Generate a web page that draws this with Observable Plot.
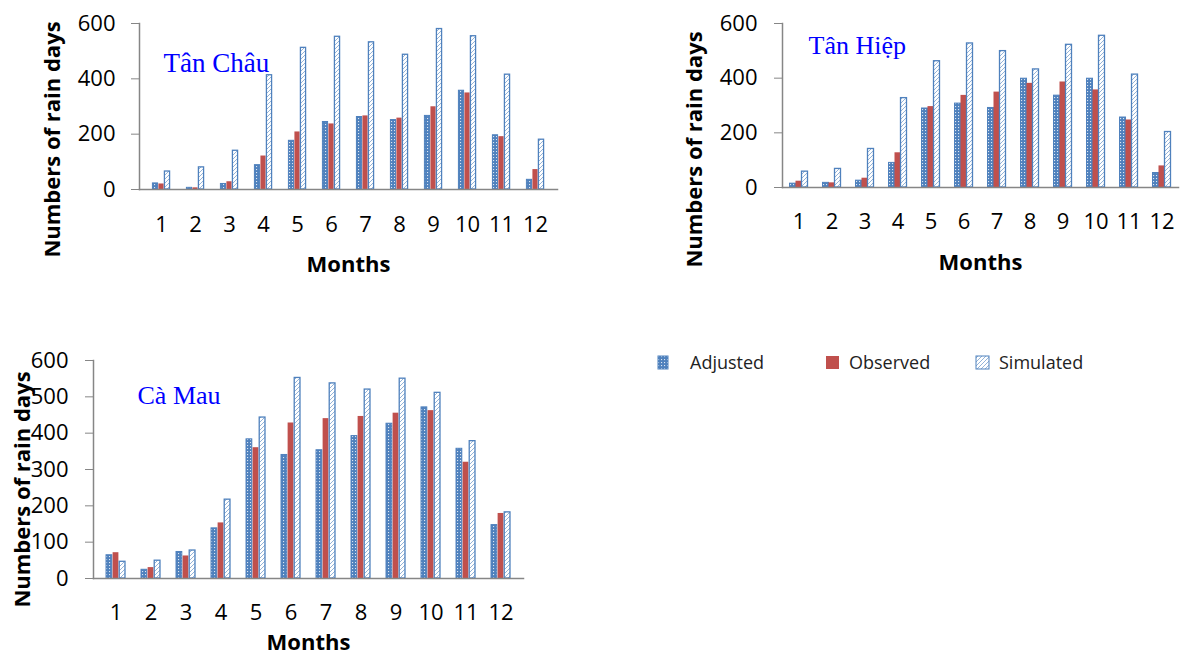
<!DOCTYPE html>
<html>
<head>
<meta charset="utf-8">
<script src="https://cdn.jsdelivr.net/npm/d3@7"></script>
<script src="https://cdn.jsdelivr.net/npm/@observablehq/plot@0.6"></script>
<style>
  html, body { margin: 0; padding: 0; background: white; width: 1184px; height: 656px; overflow: hidden; }
  #root { position: relative; width: 1184px; height: 656px; font-family: "Open Sans", sans-serif; }
  .panel { position: absolute; }
  .legend { position: absolute; top: 350px; left: 0; height: 24px; width: 1184px; font-family: "Open Sans", sans-serif; font-size: 18px; color: #222; }
  .legend .item { position: absolute; top: 0; height: 24px; line-height: 24px; white-space: nowrap; }
  .legend svg { position: absolute; }
</style>
</head>
<body>
<svg width="0" height="0" style="position:absolute">
  <defs>
    <pattern id="pat-adj" patternUnits="userSpaceOnUse" width="3" height="3">
      <rect width="3" height="3" fill="#4F81BD"></rect>
      <rect x="1" y="1" width="1.1" height="1.1" fill="#DCE6F2"></rect>
    </pattern>
    <pattern id="pat-sim" patternUnits="userSpaceOnUse" width="4" height="4">
      <rect width="4" height="4" fill="white"></rect>
      <path d="M0,4 L4,0 M-1,1 L1,-1 M3,5 L5,3" stroke="#95B3D7" stroke-width="1"></path>
    </pattern>
  </defs>
</svg>
<div id="root"></div>
<script>
// ---- data ----
const months = [1, 2, 3, 4, 5, 6, 7, 8, 9, 10, 11, 12];
const seriesNames = ["Adjusted", "Observed", "Simulated"];

const tanChauAdjusted  = [22, 6, 20, 88, 176, 244, 262, 251, 266, 357, 196, 35];
const tanChauObserved  = [20, 6, 28, 121, 208, 237, 266, 258, 299, 349, 191, 72];
const tanChauSimulated = [65, 80, 140, 413, 512, 552, 532, 487, 580, 554, 415, 180];

const tanHiepAdjusted  = [14, 17, 25, 90, 289, 307, 291, 398, 336, 398, 256, 53];
const tanHiepObserved  = [23, 17, 34, 127, 296, 337, 349, 381, 386, 357, 247, 79];
const tanHiepSimulated = [58, 68, 141, 327, 462, 527, 499, 432, 522, 555, 413, 203];

const caMauAdjusted  = [64, 24, 73, 138, 383, 340, 353, 392, 426, 471, 357, 147];
const caMauObserved  = [71, 30, 62, 153, 360, 428, 440, 446, 455, 462, 320, 179];
const caMauSimulated = [46, 49, 77, 217, 443, 552, 537, 520, 550, 511, 378, 182];

const ticks200 = [0, 200, 400, 600];
const ticks100 = [0, 100, 200, 300, 400, 500, 600];

const yLabel = "Numbers of rain days";
const xLabel = "Months";

function rows(values) {
  return months.map((m, i) => ({month: m, value: values[i]}));
}

function makePanel(c) {
  const bw = (c.width - c.mL - c.mR) / months.length;
  const h = bw / 2;
  const w = c.barW;
  return Plot.plot({
    width: c.width, height: c.height,
    marginLeft: c.mL, marginRight: c.mR, marginTop: c.mT, marginBottom: c.mB,
    style: {fontFamily: "'Open Sans', sans-serif", fontSize: "22px", background: "transparent", overflow: "visible", color: "black"},
    x: {type: "band", domain: months, padding: 0},
    y: {domain: [0, 600]},
    marks: [
      Plot.barY(rows(c.adj), {x: "month", y: "value", fill: "url(#pat-adj)", stroke: "#4F81BD", strokeWidth: 1,
        insetLeft: h - 1.5 * w, insetRight: h + 0.5 * w}),
      Plot.barY(rows(c.obs), {x: "month", y: "value", fill: "#C0504D",
        insetLeft: h - 0.5 * w, insetRight: h - 0.5 * w}),
      Plot.barY(rows(c.sim), {x: "month", y: "value", fill: "url(#pat-sim)", stroke: "#4F81BD", strokeWidth: 1.3,
        insetLeft: h + 0.5 * w, insetRight: h - 1.5 * w}),
      Plot.frame({anchor: "left", stroke: "#868686", strokeWidth: 1.5}),
      Plot.frame({anchor: "bottom", stroke: "#868686", strokeWidth: 1.5}),
      Plot.axisY({ticks: c.yTicks, tickSize: 8, tickPadding: c.tickPad, stroke: "#868686", fill: "black", label: null}),
      Plot.axisX({tickSize: 0, tickPadding: c.xPad, fill: "black", label: null}),
      Plot.text([c.title], {text: d => d, frameAnchor: "top-left", textAnchor: "start", lineAnchor: "middle",
        dx: c.titleDx, dy: c.titleDy, fill: "#0000FF", fontFamily: "'Liberation Serif', 'Times New Roman', serif", fontSize: c.titleSize}),
      Plot.text([yLabel], {text: d => d, frameAnchor: "left", rotate: -90, textAnchor: "middle", lineAnchor: "middle",
        dx: c.ylDx, dy: c.ylDy, fontWeight: "bold", fontSize: 22, fill: "black"}),
      Plot.text([xLabel], {text: d => d, frameAnchor: "bottom", textAnchor: "middle", lineAnchor: "middle",
        dy: c.xlDy, fontWeight: "bold", fontSize: 22, fill: "black"})
    ]
  });
}

const root = document.getElementById("root");
function place(svg, left, top) {
  const d = document.createElement("div");
  d.className = "panel";
  d.style.left = left + "px";
  d.style.top = top + "px";
  d.appendChild(svg);
  root.appendChild(d);
}

place(makePanel({
  adj: tanChauAdjusted, obs: tanChauObserved, sim: tanChauSimulated, title: "Tân Châu",
  width: 580, height: 280, mL: 139, mR: 23, mT: 23, mB: 91, yTicks: ticks200, tickPad: 16, xPad: 27, barW: 6,
  titleDx: 24, titleDy: 40, titleSize: 27, ylDx: -87, ylDy: 33, xlDy: 75
}), 0, 0);

place(makePanel({
  adj: tanHiepAdjusted, obs: tanHiepObserved, sim: tanHiepSimulated, title: "Tân Hiệp",
  width: 524, height: 280, mL: 122, mR: 6, mT: 23, mB: 93, yTicks: ticks200, tickPad: 17, xPad: 26, barW: 6,
  titleDx: 26, titleDy: 22, titleSize: 26, ylDx: -88, ylDy: 44, xlDy: 75
}), 660, 0);

place(makePanel({
  adj: caMauAdjusted, obs: caMauObserved, sim: caMauSimulated, title: "Cà Mau",
  width: 560, height: 326, mL: 93, mR: 37, mT: 30, mB: 78, yTicks: ticks100, tickPad: 17, xPad: 26, barW: 6.6,
  titleDx: 44, titleDy: 35, titleSize: 26, ylDx: -71, ylDy: 20, xlDy: 64
}), 0, 330);

// ---- legend ----
const legend = document.createElement("div");
legend.className = "legend";
const legendItems = [
  {name: seriesNames[0], fill: "url(#pat-adj)", stroke: "#4F81BD", sx: 657, sw: 10, tx: 690},
  {name: seriesNames[1], fill: "#C0504D", stroke: "none", sx: 825, sw: 13, tx: 849},
  {name: seriesNames[2], fill: "url(#pat-sim)", stroke: "#4F81BD", sx: 975, sw: 13, tx: 999}
];
for (const it of legendItems) {
  const sw = document.createElementNS("http://www.w3.org/2000/svg", "svg");
  sw.setAttribute("width", it.sw + 2);
  sw.setAttribute("height", 16);
  sw.style.left = it.sx + "px";
  sw.style.top = "5px";
  const r = document.createElementNS("http://www.w3.org/2000/svg", "rect");
  r.setAttribute("x", 1); r.setAttribute("y", 1);
  r.setAttribute("width", it.sw); r.setAttribute("height", 13);
  r.setAttribute("fill", it.fill);
  r.setAttribute("stroke", it.stroke);
  sw.appendChild(r);
  legend.appendChild(sw);
  const t = document.createElement("div");
  t.className = "item";
  t.style.left = it.tx + "px";
  t.textContent = it.name;
  legend.appendChild(t);
}
root.appendChild(legend);
</script>
</body>
</html>
